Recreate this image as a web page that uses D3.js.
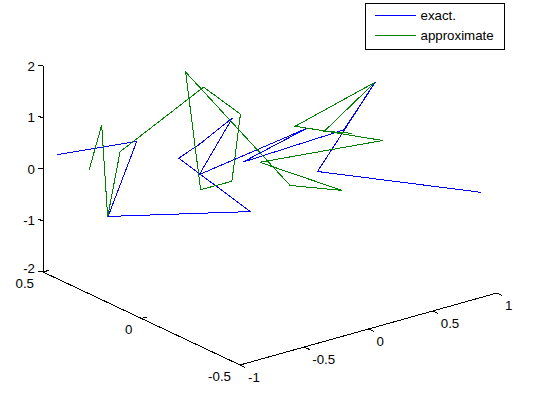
<!DOCTYPE html>
<html>
<head>
<meta charset="utf-8">
<script src="https://cdn.jsdelivr.net/npm/d3@7/dist/d3.min.js"></script>
<style>
  body { margin: 0; background: #fff; }
  svg { display: block; font-family: Arial, "Liberation Sans", sans-serif; font-size: 13.3px; }
</style>
</head>
<body>
<div id="chart"></div>
<script>
// series values (3-D points)
const exactX = [-0.94, -0.73, -0.80, -0.46, -0.71, -0.60, -0.58, -0.14, -0.55, 0.13, -0.52, 0.42, 0.82, -0.09, 0.95];
const exactY = [0.47, 0.20, 0.30, -0.20, 0.00, -0.05, 0.00, 0.10, 0.00, -0.10, -0.20, -0.10, 0.00, -0.30, -0.45];
const exactZ = [0.29, 0.89, -0.70, 0.06, 0.91, 1.24, 1.03, 1.11, 0.48, 1.08, 1.06, 0.85, 1.32, 0.76, -0.10];

const approxX = [-0.87, -0.85, -0.88, -0.86, -0.21, -0.23, -0.45, -0.54, -0.35, -0.15, 0.10, -0.08, 0.57, 0.35, 0.74, 0.27, 0.41];
const approxY = [0.35, 0.30, 0.25, 0.20, 0.20, 0.00, -0.10, 0.00, 0.20, -0.20, -0.30, 0.00, -0.20, 0.10, -0.05, -0.10, -0.15];
const approxZ = [0.17, 1.11, -0.56, 0.78, 1.58, 1.43, 0.46, 0.18, 1.97, 0.35, 0.26, 0.39, 0.72, 0.61, 1.46, 0.93, 0.88];

const seriesNames = ['exact.', 'approximate'];
const seriesColors = ['#0000ff', '#008000'];

const xTicks = [-1, -0.5, 0, 0.5, 1];
const yTicks = [-0.5, 0, 0.5];
const zTicks = [-2, -1, 0, 1, 2];

const width = 538, height = 396;

// projected box: origin corner is (x=-1, y=-0.5, z=-2)
const origin = [240, 365];
const xVec = [257, -72], yVec = [-197, -93], zVec = [0, -206];

const xs = d3.scaleLinear().domain([-1, 1]).range([0, 1]);
const ys = d3.scaleLinear().domain([-0.5, 0.5]).range([0, 1]);
const zs = d3.scaleLinear().domain([-2, 2]).range([0, 1]);

function project(x, y, z) {
    let a = xs(x), b = ys(y), c = zs(z);
    return [
        origin[0] + a * xVec[0] + b * yVec[0] + c * zVec[0],
        origin[1] + a * xVec[1] + b * yVec[1] + c * zVec[1]
    ];
}

const svg = d3.select('#chart').append('svg')
    .attr('width', width)
    .attr('height', height);

const line = d3.line().curve(d3.curveLinear);

// axis lines
const axisG = svg.append('g')
    .attr('stroke', '#000')
    .attr('fill', 'none')
    .attr('shape-rendering', 'crispEdges');

axisG.append('path').attr('d', line([project(-1, 0.5, -2), project(-1, 0.5, 2)]));
axisG.append('path').attr('d', line([project(-1, 0.5, -2), project(-1, -0.5, -2)]));
axisG.append('path').attr('d', line([project(-1, -0.5, -2), project(1, -0.5, -2)]));

// ticks
const tickLen = 6;
function unit(v) { let l = Math.hypot(v[0], v[1]); return [v[0] / l, v[1] / l]; }
const xDir = unit(xVec), yDir = unit(yVec);

xTicks.forEach(t => {
    let p = project(t, -0.5, -2);
    axisG.append('path').attr('d', line([p, [p[0] - yDir[0] * tickLen, p[1] - yDir[1] * tickLen]]));
    svg.append('text').attr('x', p[0] + 8).attr('y', p[1] + 12).attr('dy', '0.35em')
        .attr('text-anchor', 'start').text(t);
});

yTicks.forEach(t => {
    let p = project(-1, t, -2);
    axisG.append('path').attr('d', line([p, [p[0] + xDir[0] * tickLen, p[1] + xDir[1] * tickLen]]));
    svg.append('text').attr('x', p[0] - 9).attr('y', p[1] + 11).attr('dy', '0.35em')
        .attr('text-anchor', 'end').text(t);
});

zTicks.forEach(t => {
    let p = project(-1, 0.5, t);
    axisG.append('path').attr('d', line([p, [p[0] - 5, p[1] - 1]]));
    svg.append('text').attr('x', p[0] - 8).attr('y', p[1] - (t === -2 ? 4 : 0)).attr('dy', '0.35em')
        .attr('text-anchor', 'end').text(t);
});

// data lines
const series = [
    d3.range(exactX.length).map(i => project(exactX[i], exactY[i], exactZ[i])),
    d3.range(approxX.length).map(i => project(approxX[i], approxY[i], approxZ[i]))
];

svg.append('g').selectAll('path')
    .data(series)
    .enter().append('path')
    .attr('d', d => line(d))
    .attr('fill', 'none')
    .attr('stroke', (d, i) => seriesColors[i])
    .attr('stroke-width', 1)
    .attr('shape-rendering', 'crispEdges');

// legend
const legend = svg.append('g').attr('transform', 'translate(365.5,3.5)');
legend.append('rect')
    .attr('width', 139).attr('height', 46)
    .attr('fill', '#fff').attr('stroke', '#000');

const items = legend.selectAll('g.item')
    .data(seriesNames)
    .enter().append('g')
    .attr('class', 'item')
    .attr('transform', (d, i) => 'translate(0,' + (11.5 + i * 20) + ')');

items.append('line')
    .attr('x1', 9).attr('x2', 50)
    .attr('stroke', (d, i) => seriesColors[i])
    .attr('shape-rendering', 'crispEdges');

items.append('text')
    .attr('x', 55).attr('dy', '0.35em')
    .text(d => d);
</script>
</body>
</html>
